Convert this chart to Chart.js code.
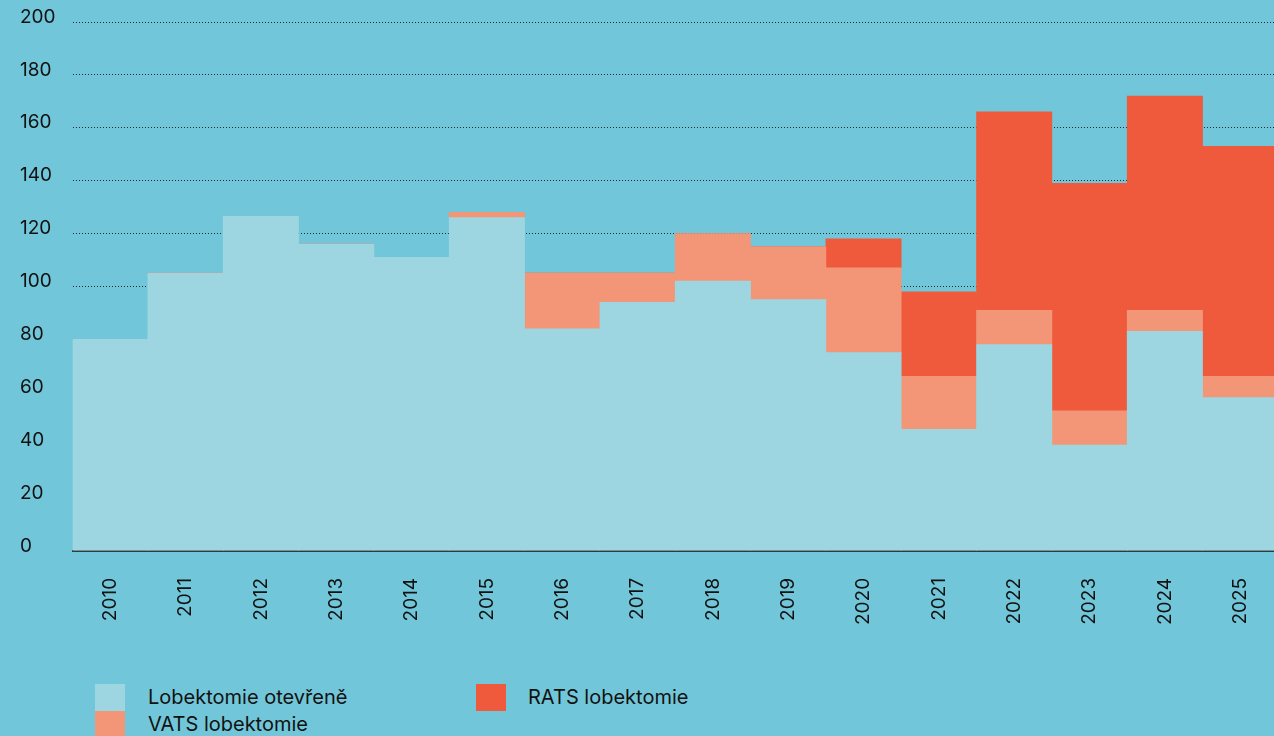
<!DOCTYPE html>
<html>
<head>
<meta charset="utf-8">
<script src="https://cdn.jsdelivr.net/npm/chart.js@4/dist/chart.umd.min.js"></script>
<style>
  html, body { margin: 0; padding: 0; background: #71c7d9; overflow: hidden; }
  #wrap { position: relative; width: 1274px; height: 736px; overflow: hidden; }
  #chartBox { position: absolute; left: 0; top: 0; width: 1282px; height: 644px; }
  .leg { position: absolute; font-family: Inter, "Noto Sans", sans-serif; font-size: 20px; color: #111; }
  .sw { position: absolute; width: 30px; height: 27px; }
</style>
</head>
<body>
<div id="wrap">
  <div id="chartBox"><canvas id="lobChart"></canvas></div>
  <div class="sw" style="left:95px;top:684px;background:#9dd6e1"></div>
  <div class="leg" style="left:148px;top:685px">Lobektomie otevřeně</div>
  <div class="sw" style="left:95px;top:711px;background:#f29677"></div>
  <div class="leg" style="left:148px;top:712px">VATS lobektomie</div>
  <div class="sw" style="left:476px;top:684px;background:#ef5a3c"></div>
  <div class="leg" style="left:528px;top:685px">RATS lobektomie</div>
</div>
<script>
const years = ['2010', '2011', '2012', '2013', '2014', '2015', '2016', '2017', '2018', '2019', '2020', '2021', '2022', '2023', '2024', '2025'];
const openLob = [80, 105, 126.5, 116, 111, 126, 84, 94, 102, 95, 75, 46, 78, 40, 83, 58];
const vatsLob = [0, 0, 0, 0, 0, 2, 21, 11, 18, 20, 32, 20, 13, 13, 8, 8];
const ratsLob = [0, 0, 0, 0, 0, 0, 0, 0, 0, 0, 11, 32, 75, 86, 81, 87];

const tickFont = { family: 'Inter, "Noto Sans", sans-serif', size: 19 };

const ctx = document.getElementById('lobChart').getContext('2d');
new Chart(ctx, {
    type: 'bar',
    data: {
        labels: years,
        datasets: [
            { label: 'Lobektomie otevřeně', data: openLob, backgroundColor: '#9dd6e1' },
            { label: 'VATS lobektomie', data: vatsLob, backgroundColor: '#f29677' },
            { label: 'RATS lobektomie', data: ratsLob, backgroundColor: '#ef5a3c' }
        ]
    },
    options: {
        responsive: true,
        maintainAspectRatio: false,
        animation: false,
        layout: { padding: { left: 20, top: 22, right: 0, bottom: 0 } },
        datasets: {
            bar: { barPercentage: 1, categoryPercentage: 1, borderWidth: 0 }
        },
        plugins: {
            legend: { display: false },
            tooltip: { enabled: false }
        },
        scales: {
            x: {
                stacked: true,
                grid: { display: false },
                border: { display: true, color: '#2e3b40', width: 2 },
                ticks: {
                    color: '#111',
                    font: tickFont,
                    minRotation: 90,
                    maxRotation: 90,
                    padding: 19
                }
            },
            y: {
                stacked: true,
                min: 0,
                max: 200,
                z: 1,
                border: { display: false, dash: [1, 2] },
                grid: {
                    color: '#1f2a2e',
                    lineWidth: 1,
                    drawTicks: false
                },
                ticks: {
                    stepSize: 20,
                    color: '#111',
                    font: tickFont,
                    crossAlign: 'far',
                    padding: 8.5,
                    labelOffset: -5
                }
            }
        }
    }
});
</script>
</body>
</html>
